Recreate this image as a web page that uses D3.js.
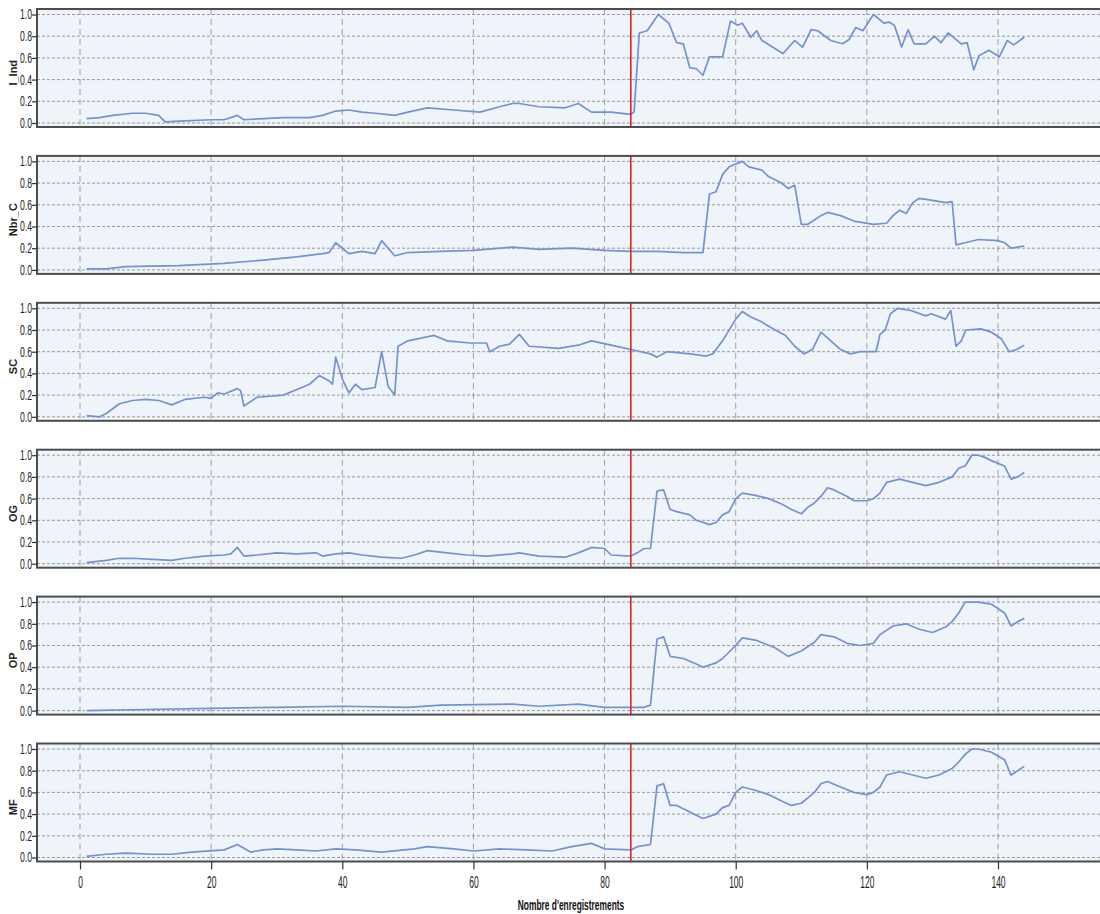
<!DOCTYPE html>
<html>
<head>
<meta charset="utf-8">
<script src="https://cdn.jsdelivr.net/npm/d3@7"></script>
<style>
  html, body { margin: 0; padding: 0; background: #fff; }
  svg { display: block; }
</style>
</head>
<body>
<svg id="chart" width="1100" height="914"></svg>
<script>
// Variable names, one panel each, top to bottom
const seriesNames = ["I_Ind", "Nbr_C", "SC", "OG", "OP", "MF"];

// Recording index where the regime changes (red marker)
const breakIndex = 84;

// x tick values
const xTicks = [0, 20, 40, 60, 80, 100, 120, 140];
// y tick values (normalised scale)
const yTicks = [0, 0.2, 0.4, 0.6, 0.8, 1.0];

// [record index, normalised value]
const iInd = [[1,0.04],[3,0.05],[5,0.07],[8,0.09],[10,0.09],[12,0.07],[13,0.01],[16,0.02],[20,0.03],[22,0.03],[24,0.07],[25,0.03],[28,0.04],[31,0.05],[35,0.05],[37,0.07],[39,0.11],[41,0.12],[43,0.1],[45,0.09],[48,0.07],[50,0.1],[53,0.14],[57,0.12],[61,0.1],[64,0.15],[66,0.18],[67,0.18],[70,0.15],[74,0.14],[76,0.18],[78,0.1],[81,0.1],[84,0.08],[84.5,0.1],[85.3,0.83],[86.5,0.85],[88.2,1.0],[89.8,0.92],[91,0.74],[92,0.73],[93,0.51],[94,0.5],[95,0.44],[96,0.61],[98,0.61],[99.2,0.94],[100.3,0.9],[101,0.92],[102.3,0.79],[103.2,0.85],[104,0.76],[107.2,0.64],[109,0.76],[110.2,0.7],[111.5,0.86],[112.5,0.85],[114.5,0.76],[116.3,0.73],[117.3,0.77],[118.3,0.88],[119.4,0.85],[121,1.0],[122.6,0.92],[123.4,0.93],[124.2,0.9],[125.3,0.7],[126.3,0.86],[127.2,0.73],[129,0.73],[130.3,0.8],[131.3,0.74],[132.4,0.83],[134.4,0.73],[135.3,0.74],[136.3,0.49],[137.1,0.62],[138.6,0.67],[140.2,0.61],[141.4,0.76],[142.4,0.72],[144,0.79]];

const nbrC = [[1,0.01],[4,0.01],[7,0.03],[15,0.04],[22,0.06],[28,0.09],[33,0.12],[37,0.15],[38,0.16],[39,0.25],[41,0.15],[43,0.17],[45,0.15],[46,0.27],[48,0.13],[50,0.16],[55,0.17],[60,0.18],[66,0.21],[70,0.19],[75,0.2],[80,0.18],[84,0.17],[88,0.17],[92,0.16],[95,0.16],[96,0.7],[97,0.72],[98,0.88],[99,0.95],[101,1.0],[102,0.95],[104,0.92],[105,0.86],[107,0.8],[108,0.75],[109,0.78],[110,0.42],[111,0.42],[113,0.5],[114,0.53],[116,0.5],[118,0.45],[121,0.42],[123,0.43],[124,0.5],[125,0.55],[126,0.52],[127,0.62],[128,0.66],[130,0.64],[132,0.62],[133,0.63],[133.6,0.23],[135,0.25],[137,0.28],[140,0.27],[141,0.25],[142,0.2],[144,0.22]];

const sc = [[1,0.01],[3,0.0],[4,0.03],[6,0.12],[8,0.15],[10,0.16],[12,0.15],[14,0.11],[16,0.16],[19,0.18],[20,0.17],[21,0.22],[22,0.21],[24,0.26],[24.5,0.24],[25,0.1],[27,0.18],[31,0.2],[33,0.25],[35,0.3],[36.5,0.38],[38,0.33],[38.5,0.3],[39,0.55],[40,0.35],[41,0.22],[42,0.3],[43,0.25],[45,0.27],[46,0.6],[47,0.28],[48,0.2],[48.5,0.65],[50,0.7],[54,0.75],[56,0.7],[59.5,0.68],[62,0.68],[62.5,0.6],[64,0.65],[65.5,0.67],[67,0.76],[68.5,0.65],[73,0.63],[76,0.66],[78,0.7],[81,0.66],[84,0.62],[87,0.58],[88,0.55],[89.5,0.6],[93,0.58],[95.5,0.56],[96.5,0.58],[98,0.7],[100,0.9],[101,0.97],[102.3,0.92],[103.8,0.88],[106,0.8],[107.6,0.75],[109,0.65],[110.4,0.58],[111.7,0.62],[113,0.78],[114.5,0.7],[116,0.62],[117.5,0.58],[119,0.6],[121.4,0.6],[122,0.76],[122.8,0.8],[123.6,0.95],[124.7,1.0],[126.7,0.98],[129,0.93],[129.8,0.95],[132,0.9],[132.8,0.98],[133.6,0.65],[134.4,0.7],[135.1,0.8],[137.4,0.81],[139,0.78],[140.5,0.72],[141.7,0.6],[142.8,0.62],[144,0.66]];

const og = [[1,0.01],[4,0.03],[6,0.05],[8,0.05],[11,0.04],[14,0.03],[16,0.05],[19,0.07],[22,0.08],[23,0.09],[24,0.15],[25,0.07],[27,0.08],[30,0.1],[33,0.09],[36,0.1],[37,0.07],[39,0.09],[41,0.1],[43,0.08],[46,0.06],[49,0.05],[51,0.08],[53,0.12],[56,0.1],[59,0.08],[62,0.07],[66,0.09],[67,0.1],[70,0.07],[74,0.06],[76,0.1],[78,0.15],[80,0.14],[81,0.08],[84,0.07],[85,0.1],[86,0.14],[87,0.14],[88,0.67],[89,0.68],[90,0.5],[91,0.48],[93,0.45],[94,0.4],[96,0.36],[97,0.38],[98,0.45],[99,0.48],[100,0.6],[101,0.65],[103,0.63],[105,0.6],[107,0.55],[108.5,0.5],[110,0.46],[111,0.52],[112,0.56],[113,0.62],[114,0.7],[115,0.68],[117,0.62],[118,0.58],[120,0.58],[121,0.6],[122,0.65],[123,0.75],[125,0.78],[127,0.75],[129,0.72],[131,0.75],[133,0.8],[134,0.88],[135,0.9],[136,1.0],[137,1.0],[138,0.98],[139,0.95],[141,0.9],[142,0.78],[143,0.8],[144,0.84]];

const op = [[1,0.0],[10,0.01],[20,0.02],[30,0.03],[40,0.04],[50,0.03],[55,0.05],[66,0.06],[70,0.04],[76,0.06],[80,0.03],[86,0.03],[87,0.05],[88,0.66],[89,0.68],[90,0.5],[92,0.48],[94,0.43],[95,0.4],[97,0.44],[98,0.48],[100,0.6],[101,0.67],[103,0.65],[106,0.58],[108,0.5],[110,0.55],[112,0.63],[113,0.7],[115,0.68],[117,0.62],[119,0.6],[121,0.62],[122,0.7],[124,0.78],[126,0.8],[128,0.75],[130,0.72],[132,0.77],[133,0.82],[134,0.9],[135,1.0],[137,1.0],[139,0.98],[141,0.9],[142,0.78],[143,0.82],[144,0.85]];

const mf = [[1,0.01],[4,0.03],[7,0.04],[11,0.03],[14,0.03],[17,0.05],[22,0.07],[24,0.12],[26,0.05],[28,0.07],[30,0.08],[33,0.07],[36,0.06],[39,0.08],[42,0.07],[46,0.05],[51,0.08],[53,0.1],[57,0.08],[60,0.06],[64,0.08],[68,0.07],[72,0.06],[75,0.1],[78,0.13],[80,0.08],[84,0.07],[85,0.1],[87,0.12],[88,0.66],[89,0.68],[90,0.48],[91,0.48],[93,0.42],[95,0.36],[97,0.4],[98,0.46],[99,0.48],[100,0.6],[101,0.65],[103,0.62],[105,0.58],[107,0.52],[108.5,0.48],[110,0.5],[111,0.55],[112,0.6],[113,0.68],[114,0.7],[116,0.65],[118,0.6],[120,0.58],[121,0.6],[122,0.65],[123,0.76],[125,0.79],[127,0.76],[129,0.73],[131,0.76],[133,0.82],[134,0.88],[135,0.95],[136,1.0],[137,1.0],[139,0.97],[141,0.9],[142,0.76],[143,0.8],[144,0.84]];

const seriesData = [iInd, nbrC, sc, og, op, mf];

const svg = d3.select("#chart");
const sans = '"Liberation Sans", Arial, sans-serif';

// Shared horizontal scale: 0 → 80px, 140 → 998px
const x = d3.scaleLinear().domain([0, 140]).range([80, 998]);
const boxLeft = x(-6.56);
const boxRight = x(158);

const panelTop0 = 14.5;     // pixel of value 1.0 in the first panel
const panelPitch = 146.9;
const valueSpan = 108.5;   // pixels between 0.0 and 1.0

seriesNames.forEach((name, i) => {
  const top = panelTop0 + i * panelPitch;
  const y = d3.scaleLinear().domain([0, 1]).range([top + valueSpan, top]);
  const boxTop = top - 5.5;
  const boxBottom = top + valueSpan + 4;

  const g = svg.append("g");

  g.append("rect")
    .attr("x", boxLeft).attr("y", boxTop)
    .attr("width", boxRight - boxLeft).attr("height", boxBottom - boxTop)
    .attr("fill", "#eef4fa");

  // vertical grid
  g.append("g").selectAll("line").data(xTicks).join("line")
    .attr("x1", d => x(d)).attr("x2", d => x(d))
    .attr("y1", boxTop).attr("y2", boxBottom)
    .attr("stroke", "#a0a0a0").attr("stroke-width", 1)
    .attr("stroke-dasharray", "6,4");

  // horizontal grid
  g.append("g").selectAll("line").data(yTicks).join("line")
    .attr("x1", boxLeft).attr("x2", boxRight)
    .attr("y1", d => y(d)).attr("y2", d => y(d))
    .attr("stroke", "#999").attr("stroke-width", 1)
    .attr("stroke-dasharray", "3,2");

  const clipId = "clip" + i;
  g.append("clipPath").attr("id", clipId).append("rect")
    .attr("x", boxLeft).attr("y", boxTop)
    .attr("width", boxRight - boxLeft).attr("height", boxBottom - boxTop);

  // series line
  const pathGen = d3.line().x(d => x(d[0])).y(d => y(d[1]));
  g.append("path")
    .datum(seriesData[i])
    .attr("clip-path", `url(#${clipId})`)
    .attr("d", pathGen)
    .attr("fill", "none")
    .attr("stroke", "#7492d2")
    .attr("stroke-width", 1.7)
    .attr("stroke-linejoin", "round");

  // regime change marker
  g.append("line")
    .attr("x1", x(breakIndex)).attr("x2", x(breakIndex))
    .attr("y1", boxTop).attr("y2", boxBottom)
    .attr("stroke", "#e3211c").attr("stroke-width", 1.6);

  // panel frame
  g.append("rect")
    .attr("x", boxLeft).attr("y", boxTop)
    .attr("width", boxRight - boxLeft).attr("height", boxBottom - boxTop)
    .attr("fill", "none").attr("stroke", "#4d4d4d").attr("stroke-width", 2);

  // y axis with condensed tick labels
  const yAxis = d3.axisLeft(y).tickValues(yTicks).tickFormat(d3.format(".1f")).tickSize(5);
  const ya = g.append("g").attr("transform", `translate(${boxLeft},0)`).call(yAxis);
  ya.select(".domain").remove();
  ya.selectAll(".tick line").attr("stroke", "#333").attr("stroke-width", 1.2);
  ya.selectAll(".tick text")
    .attr("x", 0)
    .attr("transform", "translate(-5,0) scale(0.62,1)")
    .attr("font-family", sans)
    .attr("font-size", 14)
    .attr("fill", "#222");

  // y title
  g.append("text")
    .attr("transform", `translate(17,${top + valueSpan / 2 + 4}) rotate(-90)`)
    .attr("text-anchor", "middle")
    .attr("font-family", sans)
    .attr("font-weight", "bold")
    .attr("font-size", 11)
    .attr("fill", "#222")
    .text(name);

  if (i === seriesNames.length - 1) {
    const xAxis = d3.axisBottom(x).tickValues(xTicks).tickFormat(d3.format("d")).tickSize(8);
    const xa = g.append("g").attr("transform", `translate(0,${boxBottom})`).call(xAxis);
    xa.select(".domain").remove();
    xa.selectAll(".tick line").attr("stroke", "#333").attr("stroke-width", 1.2);
    xa.selectAll(".tick text")
      .attr("y", 0)
      .attr("transform", "translate(0,14) scale(0.5,1)")
      .attr("font-family", sans)
      .attr("font-size", 17)
      .attr("fill", "#222");

    g.append("text")
      .attr("transform", "translate(571,909.5) scale(0.56,1)")
      .attr("text-anchor", "middle")
      .attr("font-family", sans)
      .attr("font-weight", "bold")
      .attr("font-size", 15)
      .attr("fill", "#111")
      .text("Nombre d'enregistrements");
  }
});
</script>
</body>
</html>
